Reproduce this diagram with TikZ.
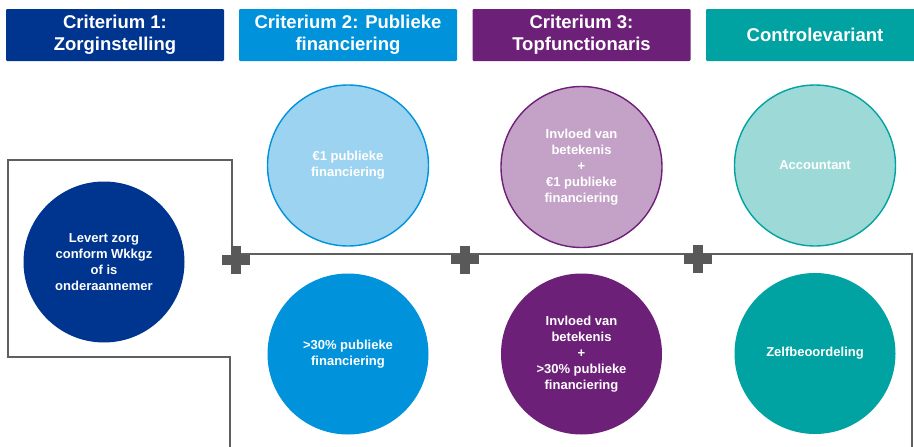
\documentclass[tikz,border=0pt]{standalone}
\usepackage{fontspec}
\setmainfont{Liberation Sans}
\usetikzlibrary{backgrounds}
\definecolor{kdarkblue}{RGB}{0,53,143}
\definecolor{kblue}{RGB}{0,146,218}
\definecolor{klightblue}{RGB}{155,211,240}
\definecolor{kpurple}{RGB}{109,32,119}
\definecolor{klightpurple}{RGB}{196,162,200}
\definecolor{kteal}{RGB}{0,163,161}
\definecolor{klightteal}{RGB}{157,217,215}
\definecolor{linegray}{RGB}{95,95,95}
\definecolor{plusgray}{RGB}{89,89,89}
\tikzset{
  x=1pt, y=-1pt,
  header/.style={rectangle, rounded corners=1.2pt, minimum width=218pt, minimum height=52pt,
    inner sep=0pt, text=white, align=center, font=\fontsize{18.5}{22}\selectfont\bfseries},
  disc/.style={circle, minimum size=161pt, inner sep=0pt, text=white, align=center,
    font=\fontsize{13}{16}\selectfont\bfseries},
  lightdisc/.style={disc, line width=1.4pt},
  conn/.style={draw=linegray, line width=1.8pt},
  plussign/.style={minimum size=28pt, inner sep=0pt,
    path picture={
      \fill[plusgray] ([xshift=-14pt,yshift=-4.6pt]path picture bounding box.center)
        rectangle ([xshift=14pt,yshift=4.6pt]path picture bounding box.center);
      \fill[plusgray] ([xshift=-4.6pt,yshift=-14pt]path picture bounding box.center)
        rectangle ([xshift=4.6pt,yshift=14pt]path picture bounding box.center);
    }},
}
\begin{document}
\begin{tikzpicture}
\useasboundingbox (0,0) rectangle (914,447);
\clip (0,0) rectangle (914,447);
% headers
\node[header, fill=kdarkblue] (h1) at (115,35) {Criterium 1:\\Zorginstelling};
\node[header, fill=kblue] (h2) at (348,35) {Criterium 2: Publieke\\financiering};
\node[header, fill=kpurple] (h3) at (581.5,35) {Criterium 3:\\Topfunctionaris};
\node[header, fill=kteal] (h4) at (815,35) {Controlevariant};
% circles
\node[disc, fill=kdarkblue] (c1) at (104,262) {Levert zorg\\conform Wkkgz\\of is\\onderaannemer};
\node[lightdisc, fill=klightblue, draw=kblue] (c2a) at (348,165.5) {€1 publieke\\financiering};
\node[disc, fill=kblue] (c2b) at (348,354) {>30\% publieke\\financiering};
\node[lightdisc, fill=klightpurple, draw=kpurple] (c3a) at (581.5,167) {Invloed van\\betekenis\\+\\€1 publieke\\financiering};
\node[disc, fill=kpurple] (c3b) at (581.5,354) {Invloed van\\betekenis\\+\\>30\% publieke\\financiering};
\node[lightdisc, fill=klightteal, draw=kteal] (c4a) at (815,165.5) {Accountant};
\node[disc, fill=kteal] (c4b) at (815,353.5) {Zelfbeoordeling};
% plus signs
\node[plussign] (p1) at (236,260) {};
\node[plussign] (p2) at (465,259.5) {};
\node[plussign] (p3) at (698,259) {};
% connectors
\coordinate (hl) at (236,254);
\coordinate (hr) at (912,254);
\coordinate (hb) at (912,450);
\coordinate (va) at (232,252);
\coordinate (vt) at (232,160);
\coordinate (lt) at (8,160);
\coordinate (lb) at (8,357);
\coordinate (bb) at (230,357);
\coordinate (be) at (230,450);
\begin{scope}[on background layer]
\draw[conn] (hl) -- (hl -| p2) -- (hl -| p3) -- (hr) -- (hb);
\draw[conn] (va) -- (vt) -- (lt) -- (lb) -- (bb) -- (be);
\end{scope}
\end{tikzpicture}
\end{document}
